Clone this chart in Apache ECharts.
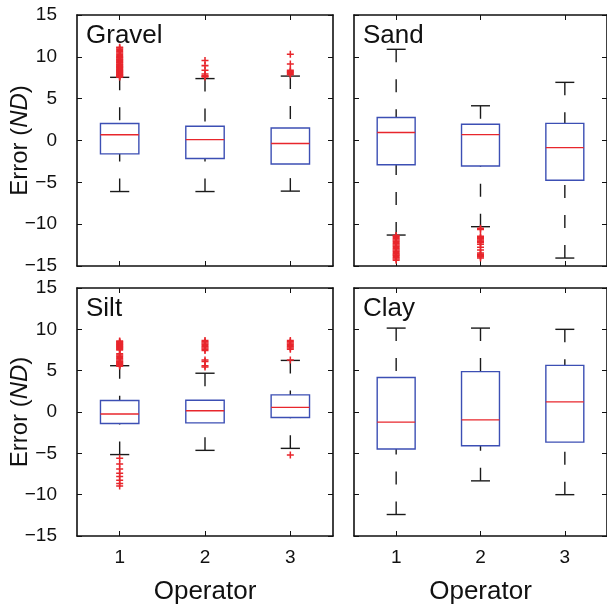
<!DOCTYPE html>
<html>
<head>
<meta charset="utf-8">
<script src="https://cdn.jsdelivr.net/npm/echarts@6/dist/echarts.min.js"></script>
<style>
  html, body { margin: 0; padding: 0; background: #fff; }
  #chart { width: 607px; height: 606px; }
</style>
</head>
<body>
<div id="chart"></div>
<script>
// Operators on the x axis
const operators = ['1', '2', '3'];
const panelNames = ['Gravel', 'Sand', 'Silt', 'Clay'];

// Box statistics per operator: [lower whisker, Q1, median, Q3, upper whisker]
const gravelStats = [[-6.1, -1.6, 0.68, 2.04, 7.55], [-6.1, -2.15, 0.1, 1.7, 7.4], [-6.05, -2.8, -0.35, 1.5, 7.7]];
const sandStats   = [[-11.3, -2.9, 0.95, 2.75, 10.9], [-10.3, -3.05, 0.7, 1.95, 4.15], [-14.05, -4.75, -0.85, 2.05, 6.95]];
const siltStats   = [[-5.15, -1.39, -0.24, 1.39, 5.6], [-4.64, -1.31, 0.16, 1.43, 4.69], [-4.4, -0.67, 0.56, 2.07, 6.24]];
const clayStats   = [[-12.4, -4.48, -1.23, 4.17, 10.15], [-8.33, -4.08, -0.95, 4.88, 10.15], [-10.0, -3.65, 1.23, 5.64, 10.0]];

// Outliers per operator
const gravelOutliers = [
  [7.58, 7.62, 7.7, 7.78, 7.85, 7.93, 8.0, 8.1, 8.18, 8.25, 8.35, 8.42, 8.5, 8.6, 8.7, 8.78, 8.85, 8.95, 9.05, 9.15, 9.25, 9.35, 9.45, 9.55, 9.65, 9.75, 9.85, 9.95, 10.05, 10.15, 10.3, 10.45, 10.6, 10.75, 10.9, 11.05, 11.15],
  [7.6, 7.68, 7.75, 7.95, 8.4, 8.95, 9.55],
  [7.85, 8.0, 8.15, 8.25, 8.4, 9.15, 10.3]
];
const sandOutliers = [
  [-11.35, -11.45, -11.6, -11.75, -11.9, -12.05, -12.2, -12.35, -12.5, -12.65, -12.8, -12.95, -13.1, -13.25, -13.4, -13.55, -13.7, -13.85, -14.0, -14.15, -14.3],
  [-10.5, -10.65, -11.45, -11.6, -11.75, -11.9, -12.05, -12.2, -12.4, -12.75, -13.1, -13.45, -13.6, -13.75, -13.9, -14.05],
  []
];
const siltOutliers = [
  [5.55, 5.65, 5.75, 5.85, 5.95, 6.05, 6.15, 6.3, 6.45, 6.6, 6.75, 6.9, 7.05, 7.5, 7.6, 7.7, 7.8, 7.9, 8.0, 8.1, 8.2, 8.3, 8.4, 8.5, 8.6, -5.6, -6.3, -6.9, -7.4, -7.8, -8.25, -8.65, -8.95],
  [5.45, 5.6, 6.1, 6.3, 7.45, 7.6, 7.75, 7.9, 8.05, 8.2, 8.35, 8.5, 8.65],
  [6.3, 7.6, 7.75, 7.9, 8.05, 8.2, 8.35, 8.5, 8.65, -5.2]
];
const clayOutliers = [[], [], []];

const statsByPanel = [gravelStats, sandStats, siltStats, clayStats];
const outliersByPanel = [gravelOutliers, sandOutliers, siltOutliers, clayOutliers];

const FONT = 'Liberation Sans';
const BLUE = '#3c4fb4';
const RED = '#e8262c';
const WHISKER = '#1a1a1a';
const AXIS = '#111';
const PLUS = 'path://M2.35,0H3.65V2.35H6V3.65H3.65V6H2.35V3.65H0V2.35H2.35Z';

const grids = [
  { left: 77, top: 15, width: 256, height: 251 },
  { left: 354, top: 15, width: 256, height: 251 },
  { left: 77, top: 288, width: 256, height: 252 },
  { left: 354, top: 288, width: 256, height: 252 }
];

const tickLabel = v => (v < 0 ? '\u2212' + Math.abs(v) : String(v));

const xAxes = [], yAxes = [], series = [], titles = [];

grids.forEach((g, i) => {
  const isBottom = i >= 2;
  const isLeft = i % 2 === 0;
  const lineStyle = { color: AXIS, width: 1.6 };
  const tick = { show: true, inside: true, length: 5, lineStyle: { color: AXIS, width: 1 } };
  xAxes.push({
    type: 'category', gridIndex: i, data: operators, position: 'bottom',
    axisLine: { show: true, onZero: false, lineStyle },
    axisTick: Object.assign({ alignWithLabel: true }, tick),
    axisLabel: { show: isBottom, margin: 12, fontFamily: FONT, fontSize: 19, color: '#111' },
    name: isBottom ? 'Operator' : '', nameLocation: 'middle', nameGap: 43,
    nameMoveOverlap: false,
    nameTextStyle: { fontFamily: FONT, fontSize: 26, color: '#111' },
    splitLine: { show: false }
  });
  xAxes.push({
    type: 'category', gridIndex: i, data: operators, position: 'top',
    axisLine: { show: true, onZero: false, lineStyle },
    axisTick: Object.assign({ alignWithLabel: true }, tick),
    axisLabel: { show: false }, splitLine: { show: false }
  });
  yAxes.push({
    type: 'value', gridIndex: i, min: -15, max: 15, interval: 5, position: 'left',
    axisLine: { show: true, onZero: false, lineStyle },
    axisTick: tick,
    axisLabel: { show: isLeft, margin: 20, fontFamily: FONT, fontSize: 19, color: '#111', formatter: tickLabel },
    name: isLeft ? '{n|Error (}{i|ND}{n|)}' : '', nameLocation: 'middle', nameGap: 45,
    nameMoveOverlap: false,
    nameTextStyle: {
      rich: {
        n: { fontFamily: FONT, fontSize: 24, color: '#111' },
        i: { fontFamily: FONT, fontSize: 24, fontStyle: 'italic', color: '#111' }
      }
    },
    splitLine: { show: false }
  });
  yAxes.push({
    type: 'value', gridIndex: i, min: -15, max: 15, interval: 5, position: 'right',
    axisLine: { show: true, onZero: false, lineStyle },
    axisTick: tick,
    axisLabel: { show: false }, splitLine: { show: false }
  });

  titles.push({
    text: panelNames[i], left: g.left + 9, top: g.top + 8, padding: 0,
    textStyle: { fontFamily: FONT, fontSize: 26, fontWeight: 'normal', color: '#111' }
  });

  const stats = statsByPanel[i];
  series.push({
    type: 'custom', xAxisIndex: 2 * i, yAxisIndex: 2 * i,
    data: stats.map((s, k) => [k].concat(s)),
    encode: { x: 0, y: [1, 2, 3, 4, 5] },
    renderItem: (params, api) => {
      const x = api.value(0);
      const lo = api.coord([x, api.value(1)]);
      const q1 = api.coord([x, api.value(2)]);
      const md = api.coord([x, api.value(3)]);
      const q3 = api.coord([x, api.value(4)]);
      const hi = api.coord([x, api.value(5)]);
      const band = api.size([0, 0])[0];
      const bw = band * 0.45;
      const cw = band * 0.225;
      const cx = md[0];
      const solid = { stroke: WHISKER, lineWidth: 1.4 };
      const dashed = { stroke: WHISKER, lineWidth: 1.4, lineDash: [13, 17] };
      return {
        type: 'group',
        children: [
          { type: 'line', shape: { x1: cx, y1: hi[1], x2: cx, y2: q3[1] }, style: dashed },
          { type: 'line', shape: { x1: cx, y1: lo[1], x2: cx, y2: q1[1] }, style: dashed },
          { type: 'line', shape: { x1: cx - cw / 2, y1: hi[1], x2: cx + cw / 2, y2: hi[1] }, style: solid },
          { type: 'line', shape: { x1: cx - cw / 2, y1: lo[1], x2: cx + cw / 2, y2: lo[1] }, style: solid },
          { type: 'rect', shape: { x: cx - bw / 2, y: q3[1], width: bw, height: q1[1] - q3[1] },
            style: { fill: '#fff', stroke: BLUE, lineWidth: 1.4 } },
          { type: 'line', shape: { x1: cx - bw / 2, y1: md[1], x2: cx + bw / 2, y2: md[1] },
            style: { stroke: RED, lineWidth: 1.4 } }
        ]
      };
    },
    z: 2
  });

  const pts = [];
  outliersByPanel[i].forEach((list, k) => list.forEach(v => pts.push([k, v])));
  series.push({
    type: 'scatter', xAxisIndex: 2 * i, yAxisIndex: 2 * i,
    data: pts, symbol: PLUS, symbolSize: 7,
    itemStyle: { color: RED, opacity: 1 },
    z: 3, silent: true
  });
});

const chart = echarts.init(document.getElementById('chart'), null, { renderer: 'canvas' });
chart.setOption({
  animation: false,
  backgroundColor: '#fff',
  title: titles,
  grid: grids.map(g => Object.assign({ containLabel: false }, g)),
  xAxis: xAxes,
  yAxis: yAxes,
  series: series
});
</script>
</body>
</html>
